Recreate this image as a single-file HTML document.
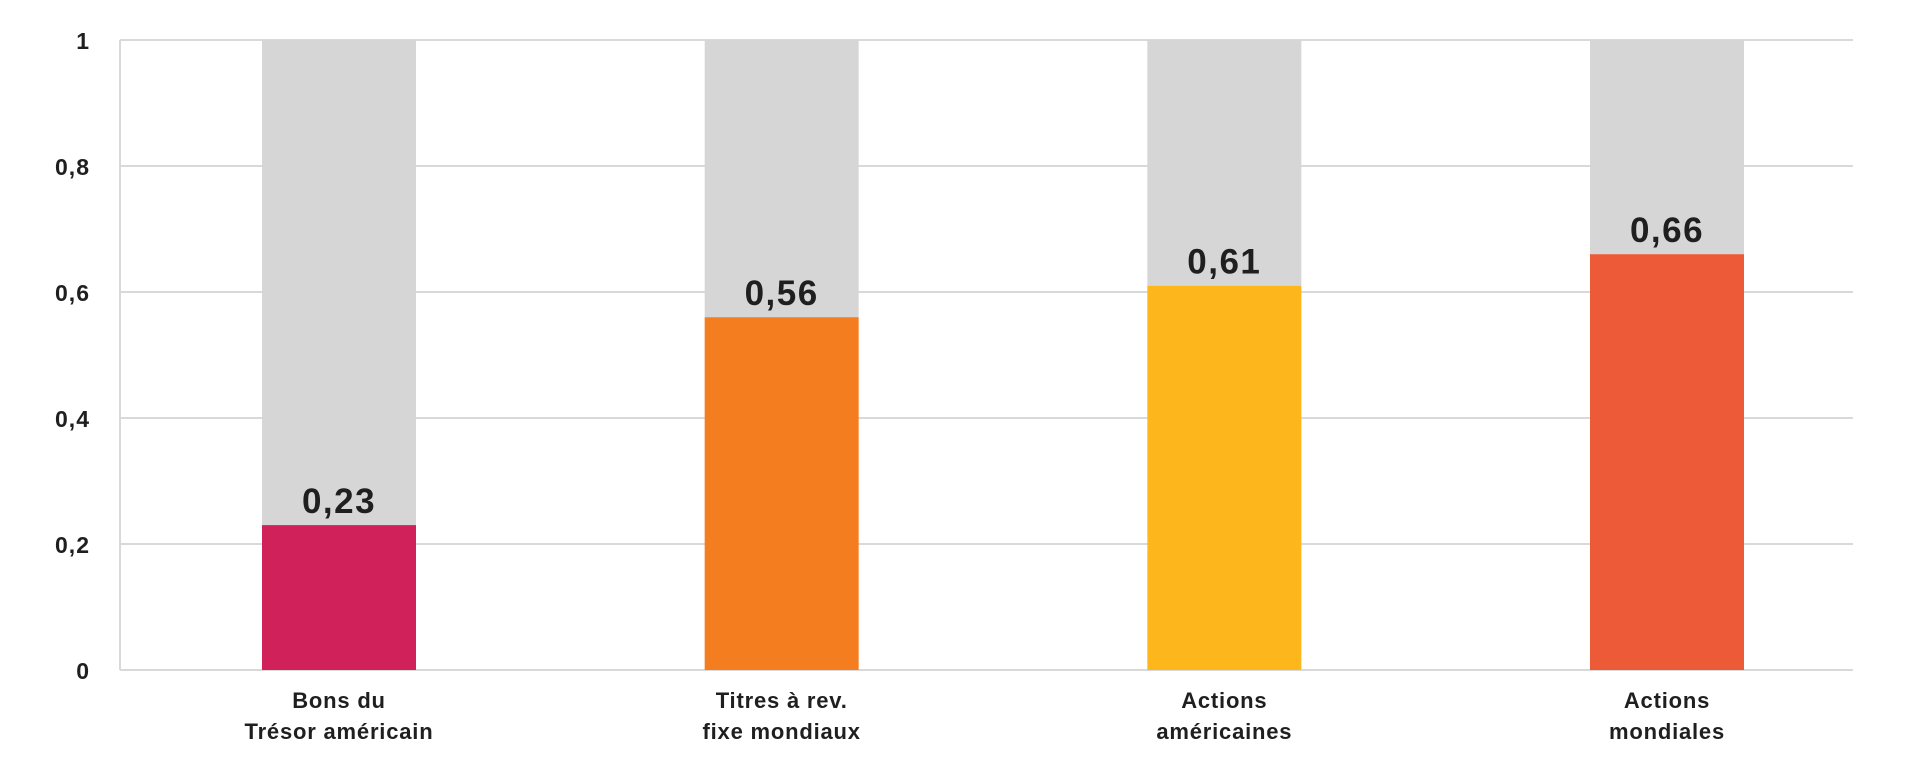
<!DOCTYPE html>
<html><head><meta charset="utf-8"><style>
body{margin:0;background:#fff;width:1920px;height:770px;overflow:hidden}
svg{font-family:"Liberation Sans",sans-serif;font-weight:bold;fill:#1f1f1f}
</style></head><body>
<svg id="chart" width="1920" height="770" viewBox="0 0 1920 770" xmlns="http://www.w3.org/2000/svg"></svg>
<script>
const categories=[["Bons du","Trésor américain"],["Titres à rev.","fixe mondiaux"],["Actions","américaines"],["Actions","mondiales"]];
const values=[0.23,0.56,0.61,0.66];
const totals=[1,1,1,1];
const valueLabels=["0,23","0,56","0,61","0,66"];
const tickValues=[0,0.2,0.4,0.6,0.8,1];
const tickLabels=["0","0,2","0,4","0,6","0,8","1"];
const colors=["#d0215a","#f47d20","#fdb71c","#ec5a37"];
const svg=document.getElementById('chart');
const NS="http://www.w3.org/2000/svg";
const L=120,R=1853,T=40,B=670;
const y=v=>B-(B-T)*v;
const xc=i=>339+i*442.67;
const BW=154;
function mk(t,a){const e=document.createElementNS(NS,t);for(const k in a)e.setAttribute(k,a[k]);svg.appendChild(e);return e;}
tickValues.forEach((v,i)=>{
  const g=mk('line',{x1:L,x2:R,y1:y(v),y2:y(v),stroke:'#d9d9d9','stroke-width':2});
  
  
  const t=mk('text',{x:90,y:y(v)+9,'text-anchor':'end','font-size':23,'letter-spacing':1});
  t.textContent=tickLabels[i];
  
  
});
const ax=mk('line',{x1:L,x2:L,y1:T,y2:B,stroke:'#d9d9d9','stroke-width':2});


values.forEach((v,i)=>{
  const bg=mk('rect',{x:xc(i)-BW/2,y:y(totals[i]),width:BW,height:y(v)-y(totals[i]),fill:'#d6d6d6'});
  
  
  const b=mk('rect',{x:xc(i)-BW/2,y:y(v),width:BW,height:B-y(v),fill:colors[i]});
  
  
  const t=mk('text',{x:xc(i),y:y(v)-12,'text-anchor':'middle','font-size':35,'letter-spacing':1.5});
  t.textContent=valueLabels[i];
  
  
  categories[i].forEach((line,j)=>{
    const c=mk('text',{x:xc(i),y:708+j*31,'text-anchor':'middle','font-size':22,'letter-spacing':0.8});
    c.textContent=line;
    
    
  });
});
</script>
</body></html>
